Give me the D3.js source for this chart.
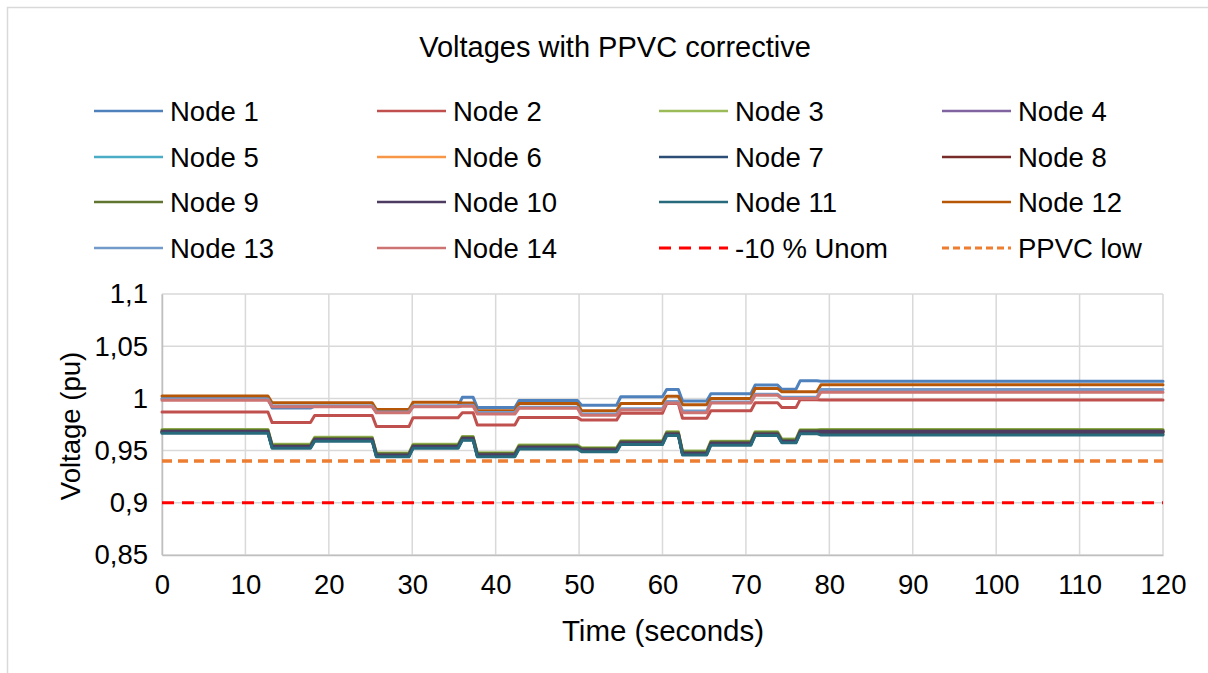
<!DOCTYPE html>
<html><head><meta charset="utf-8">
<script src="https://cdn.jsdelivr.net/npm/d3@7"></script>
<style>html,body{margin:0;padding:0;background:#fff;}svg{display:block;font-family:"Liberation Sans",Arial,sans-serif;}</style>
</head><body>
<svg id="chart" width="1208" height="673"></svg>
<script>
// ---- data ----
const phaseStart = [0, 13.2, 18.3, 25.7, 30.1, 36.0, 37.8, 42.8, 50.3, 55.0, 60.5, 62.4, 65.8, 71.1, 74.3, 76.5, 79.0];
const phaseEnd   = [12.7, 17.8, 25.2, 29.6, 35.5, 37.3, 42.3, 49.8, 54.5, 60.0, 61.9, 65.3, 70.6, 73.8, 76.0, 78.5, 120];

const node1  = [1.0000,0.9908,0.9925,0.9868,0.9925,1.0010,0.9912,0.9980,0.9935,1.0016,1.0085,0.9975,1.0045,1.0128,1.0088,1.0168,1.0165];
const node2  = [0.9870,0.9768,0.9837,0.9730,0.9815,0.9862,0.9745,0.9816,0.9792,0.9858,0.9950,0.9810,0.9882,0.9958,0.9912,0.9988,0.9984];
const node3  = [0.9703,0.9560,0.9627,0.9478,0.9560,0.9635,0.9480,0.9553,0.9528,0.9595,0.9680,0.9495,0.9590,0.9680,0.9610,0.9700,0.9703];
const node4  = [0.9687,0.9544,0.9611,0.9462,0.9544,0.9619,0.9464,0.9537,0.9512,0.9579,0.9664,0.9479,0.9574,0.9664,0.9594,0.9684,0.9687];
const node5  = [0.9677,0.9534,0.9601,0.9452,0.9534,0.9609,0.9454,0.9527,0.9502,0.9569,0.9654,0.9469,0.9564,0.9654,0.9584,0.9674,0.9677];
const node6  = [0.9681,0.9538,0.9605,0.9456,0.9538,0.9613,0.9458,0.9531,0.9506,0.9573,0.9658,0.9473,0.9568,0.9658,0.9588,0.9678,0.9681];
const node7  = [0.9673,0.9530,0.9597,0.9448,0.9530,0.9605,0.9450,0.9523,0.9498,0.9565,0.9650,0.9465,0.9560,0.9650,0.9580,0.9668,0.9658];
const node8  = [0.9679,0.9536,0.9603,0.9454,0.9536,0.9611,0.9456,0.9529,0.9504,0.9571,0.9656,0.9471,0.9566,0.9656,0.9586,0.9676,0.9679];
const node9  = [0.9695,0.9552,0.9619,0.9470,0.9552,0.9627,0.9472,0.9545,0.9520,0.9587,0.9672,0.9487,0.9582,0.9672,0.9602,0.9692,0.9695];
const node10 = [0.9683,0.9540,0.9607,0.9458,0.9540,0.9615,0.9460,0.9533,0.9508,0.9575,0.9660,0.9475,0.9570,0.9660,0.9590,0.9680,0.9683];
const node11 = [0.9667,0.9522,0.9590,0.9440,0.9522,0.9598,0.9440,0.9515,0.9490,0.9558,0.9644,0.9458,0.9552,0.9644,0.9574,0.9662,0.9650];
const node12 = [1.0022,0.9958,0.9958,0.9893,0.9962,0.9955,0.9882,0.9952,0.9882,0.9952,1.0020,0.9940,1.0000,1.0096,1.0063,1.0063,1.0130];
const node13 = [0.9995,0.9928,0.9928,0.9870,0.9928,0.9935,0.9865,0.9915,0.9850,0.9900,0.9970,0.9880,0.9965,1.0040,1.0010,1.0010,1.0086];
const node14 = [0.9982,0.9920,0.9920,0.9862,0.9920,0.9925,0.9850,0.9905,0.9838,0.9888,0.9955,0.9862,0.9955,1.0030,0.9998,0.9998,1.0060];

const unomLow = 0.9;   // -10 % Unom
const ppvcLow = 0.94;  // PPVC low

const seriesNames = ["Node 1","Node 2","Node 3","Node 4","Node 5","Node 6","Node 7","Node 8","Node 9","Node 10","Node 11","Node 12","Node 13","Node 14"];
const seriesValues = [node1,node2,node3,node4,node5,node6,node7,node8,node9,node10,node11,node12,node13,node14];
const seriesColors = ["#4F81BD","#C0504D","#9BBB59","#8064A2","#4BACC6","#F79646","#2C4D75","#772C2A","#5F7530","#4D3B62","#276A7C","#B65708","#729ACA","#CD7371"];

const xTicks = [0,10,20,30,40,50,60,70,80,90,100,110,120];
const yTicks = [0.85,0.9,0.95,1,1.05,1.1];
const yTickLabels = ["0,85","0,9","0,95","1","1,05","1,1"];

// ---- drawing ----
const svg = d3.select("#chart");
const plot = {left:162, right:1163, top:294, bottom:555};
const FS = 27.5;
const FF = "Liberation Sans, Arial, sans-serif";

svg.append("rect").attr("x",7.5).attr("y",7.5).attr("width",1230).attr("height",700)
  .attr("fill","#fff").attr("stroke","#D9D9D9").attr("stroke-width",1.5);

const x = d3.scaleLinear().domain([0,120]).range([plot.left, plot.right]);
const y = d3.scaleLinear().domain([0.85,1.1]).range([plot.bottom, plot.top]);

// gridlines
const grid = svg.append("g");
grid.selectAll("line.h").data(yTicks).join("line")
  .attr("x1",plot.left).attr("x2",plot.right)
  .attr("y1",d=>y(d)).attr("y2",d=>y(d))
  .attr("stroke","#D9D9D9").attr("stroke-width",1.5);
grid.selectAll("line.v").data(xTicks).join("line")
  .attr("y1",plot.top).attr("y2",plot.bottom)
  .attr("x1",d=>x(d)).attr("x2",d=>x(d))
  .attr("stroke","#D9D9D9").attr("stroke-width",1.5);

// axes
const xAxis = d3.axisBottom(x).tickValues(xTicks).tickSize(0).tickPadding(19);
const gx = svg.append("g").attr("transform",`translate(0,${plot.bottom})`).call(xAxis);
gx.select(".domain").attr("stroke","#BFBFBF").attr("stroke-width",1.5);
gx.selectAll("text").attr("font-size",FS).attr("fill","#000").attr("font-family",FF);

const yAxis = d3.axisLeft(y).tickValues(yTicks).tickSize(0).tickPadding(14)
  .tickFormat(d=>yTickLabels[yTicks.indexOf(d)]);
const gy = svg.append("g").attr("transform",`translate(${plot.left},0)`).call(yAxis);
gy.select(".domain").attr("stroke","#BFBFBF").attr("stroke-width",1.5);
gy.selectAll("text").attr("font-size",FS).attr("fill","#000").attr("font-family",FF);

// series
const line = d3.line().x(d=>x(d[0])).y(d=>y(d[1]));
function pts(vals){
  const p=[];
  vals.forEach((v,i)=>{p.push([phaseStart[i],v]);p.push([phaseEnd[i],v]);});
  return p;
}
const gl = svg.append("g");
seriesValues.forEach((vals,i)=>{
  gl.append("path").attr("d",line(pts(vals))).attr("fill","none")
    .attr("stroke",seriesColors[i]).attr("stroke-width",3)
    .attr("stroke-linejoin","round").attr("stroke-linecap","round");
});
// reference lines
gl.append("path").attr("d",line([[0,unomLow],[120,unomLow]])).attr("fill","none")
  .attr("stroke","#FF0000").attr("stroke-width",3).attr("stroke-dasharray","12,8");
gl.append("path").attr("d",line([[0,ppvcLow],[120,ppvcLow]])).attr("fill","none")
  .attr("stroke","#ED7D31").attr("stroke-width",3.5).attr("stroke-dasharray","10,6");

// title
svg.append("text").attr("x",615).attr("y",57).attr("text-anchor","middle")
  .attr("font-size",29).attr("fill","#000").text("Voltages with PPVC corrective");

// axis titles
svg.append("text").attr("x",663).attr("y",641).attr("text-anchor","middle")
  .attr("font-size",29.5).attr("fill","#000").text("Time (seconds)");
svg.append("text").attr("transform","translate(80,426) rotate(-90)").attr("text-anchor","middle")
  .attr("font-size",FS).attr("fill","#000").text("Voltage (pu)");

// legend
const legNames = seriesNames.concat(["-10 % Unom","PPVC low"]);
const legColors = seriesColors.concat(["#FF0000","#ED7D31"]);
const legDash = legNames.map((d,i)=> i===14 ? "12,8" : (i===15 ? "7,4" : null));
const colX = [94, 377, 659, 942];
const rowY = [111, 157, 202, 248];
const lg = svg.append("g");
legNames.forEach((n,i)=>{
  const cx = colX[i%4], cy = rowY[Math.floor(i/4)];
  const ln = lg.append("line").attr("x1",cx).attr("x2",cx+69).attr("y1",cy).attr("y2",cy)
    .attr("stroke",legColors[i]).attr("stroke-width",i>=14?3:2.6);
  if(legDash[i]) ln.attr("stroke-dasharray",legDash[i]);
  lg.append("text").attr("x",cx+76).attr("y",cy+9.5).attr("font-size",FS).attr("fill","#000").text(n);
});
</script>
</body></html>
